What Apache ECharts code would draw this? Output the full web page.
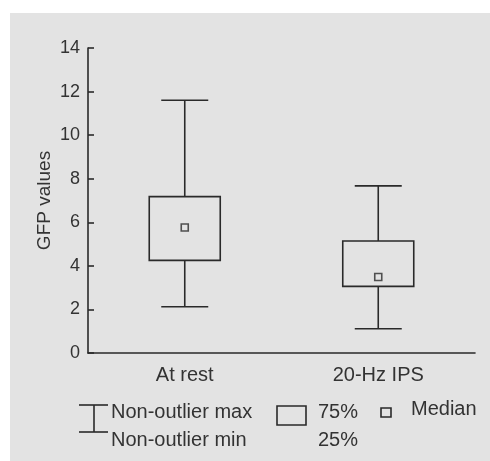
<!DOCTYPE html>
<html lang="en">
<head>
    <meta charset="UTF-8">
    <title>GFP values</title>
    <script src="https://cdn.jsdelivr.net/npm/echarts@6/dist/echarts.min.js"></script>
    <style>
        html, body { margin: 0; padding: 0; background: #fff; }
        #main { width: 490px; height: 461px; }
    </style>
</head>
<body>
<div id="main"></div>
<script>
    // categories and box statistics: [min, Q1, median, Q3, max]
    var categories = ['At rest', '20-Hz IPS'];
    var whiskerMin = [2.12, 1.11];
    var quartile1 = [4.25, 3.06];
    var medians = [5.76, 3.49];
    var quartile3 = [7.18, 5.14];
    var whiskerMax = [11.6, 7.67];
    var yTicks = [0, 2, 4, 6, 8, 10, 12, 14];

    var ink = '#2a2a2a';
    var textInk = '#333';
    var bg = '#e3e3e3';
    var font = '"Liberation Sans", Arial, sans-serif';

    var boxData = categories.map(function (c, i) {
        return [i, whiskerMin[i], quartile1[i], quartile3[i], whiskerMax[i]];
    });
    var medianData = categories.map(function (c, i) {
        return [i, medians[i]];
    });

    function renderBox(params, api) {
        var i = api.value(0);
        var pMin = api.coord([i, api.value(1)]);
        var pQ1 = api.coord([i, api.value(2)]);
        var pQ3 = api.coord([i, api.value(3)]);
        var pMax = api.coord([i, api.value(4)]);
        var cx = pMin[0];
        var boxW = 71, capW = 47;
        var st = { stroke: ink, lineWidth: 1.6, fill: null };
        return {
            type: 'group',
            children: [
                { type: 'rect', shape: { x: cx - boxW / 2, y: pQ3[1], width: boxW, height: pQ1[1] - pQ3[1] }, style: st },
                { type: 'line', shape: { x1: cx, y1: pQ3[1], x2: cx, y2: pMax[1] }, style: st },
                { type: 'line', shape: { x1: cx, y1: pQ1[1], x2: cx, y2: pMin[1] }, style: st },
                { type: 'line', shape: { x1: cx - capW / 2, y1: pMax[1], x2: cx + capW / 2, y2: pMax[1] }, style: st },
                { type: 'line', shape: { x1: cx - capW / 2, y1: pMin[1], x2: cx + capW / 2, y2: pMin[1] }, style: st }
            ]
        };
    }

    function label(text, x, y) {
        return {
            type: 'text',
            style: { text: text, x: x, y: y, fill: textInk, font: '20px ' + font, verticalAlign: 'middle' }
        };
    }

    var chart = echarts.init(document.getElementById('main'));

    var option = {
        backgroundColor: '#fff',
        animation: false,
        textStyle: { fontFamily: font },
        grid: { left: 88, right: 15, top: 48, bottom: 108 },
        xAxis: {
            type: 'category',
            data: categories,
            axisLine: { lineStyle: { color: ink, width: 1.6 } },
            axisTick: { show: false },
            axisLabel: { color: textInk, fontSize: 20, margin: 12 }
        },
        yAxis: {
            type: 'value',
            min: 0,
            max: 14,
            interval: 2,
            name: 'GFP values',
            nameLocation: 'middle',
            nameGap: 34,
            nameMoveOverlap: false,
            nameTextStyle: { color: textInk, fontSize: 19 },
            axisLine: { show: true, lineStyle: { color: ink, width: 1.6 } },
            axisTick: { show: true, inside: true, length: 6, lineStyle: { color: ink, width: 1.6 } },
            axisLabel: {
                color: textInk, fontSize: 18, margin: 8,
                formatter: function (v) { return yTicks.indexOf(v) >= 0 ? String(v) : ''; }
            },
            splitLine: { show: false }
        },
        graphic: [
            { type: 'rect', z: -10, shape: { x: 10, y: 13, width: 480, height: 448 }, style: { fill: bg } },
            // whisker legend
            { type: 'line', shape: { x1: 94, y1: 405, x2: 94, y2: 432 }, style: { stroke: ink, lineWidth: 1.6 } },
            { type: 'line', shape: { x1: 79, y1: 405, x2: 108, y2: 405 }, style: { stroke: ink, lineWidth: 1.6 } },
            { type: 'line', shape: { x1: 79, y1: 432, x2: 108, y2: 432 }, style: { stroke: ink, lineWidth: 1.6 } },
            label('Non-outlier max', 111, 412),
            label('Non-outlier min', 111, 440),
            // box legend
            { type: 'rect', shape: { x: 277, y: 406, width: 29, height: 19 }, style: { stroke: ink, lineWidth: 1.6, fill: null } },
            label('75%', 318, 412),
            label('25%', 318, 440),
            // median legend
            { type: 'rect', shape: { x: 381, y: 408, width: 10, height: 9 }, style: { stroke: ink, lineWidth: 1.6, fill: null } },
            label('Median', 411, 409)
        ],
        series: [
            {
                type: 'custom',
                renderItem: renderBox,
                encode: { x: 0, y: [1, 2, 3, 4] },
                data: boxData
            },
            {
                type: 'scatter',
                symbol: 'rect',
                symbolSize: 7,
                itemStyle: { color: bg, borderColor: ink, borderWidth: 1.6 },
                data: medianData
            }
        ]
    };

    chart.setOption(option);
</script>
</body>
</html>
